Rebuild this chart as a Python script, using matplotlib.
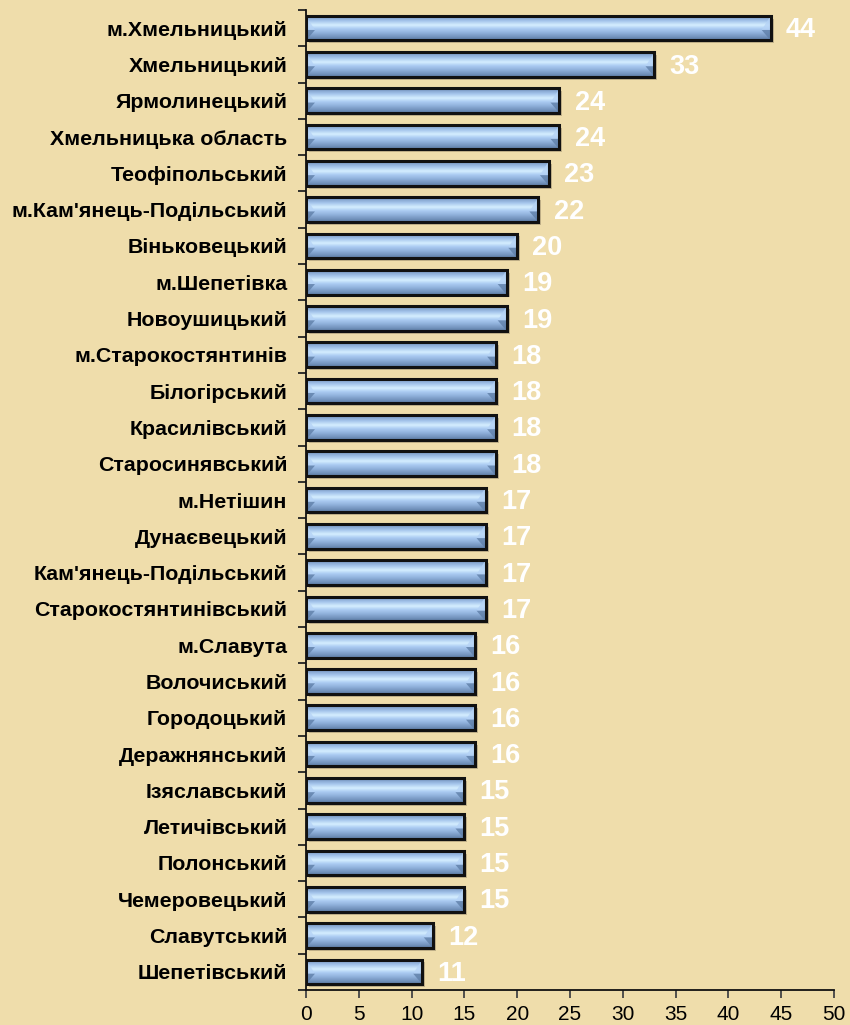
import numpy as np
import matplotlib
matplotlib.use("Agg")
import matplotlib.pyplot as plt
from matplotlib.colors import LinearSegmentedColormap
from matplotlib.patches import Rectangle, Polygon
from matplotlib.ticker import FixedLocator

categories = [
    "м.Хмельницький", "Хмельницький", "Ярмолинецький", "Хмельницька область",
    "Теофіпольський", "м.Кам'янець-Подільський", "Віньковецький", "м.Шепетівка",
    "Новоушицький", "м.Старокостянтинів", "Білогірський", "Красилівський",
    "Старосинявський", "м.Нетішин", "Дунаєвецький", "Кам'янець-Подільський",
    "Старокостянтинівський", "м.Славута", "Волочиський", "Городоцький",
    "Деражнянський", "Ізяславський", "Летичівський", "Полонський",
    "Чемеровецький", "Славутський", "Шепетівський",
]
values = [44, 33, 24, 24, 23, 22, 20, 19, 19, 18, 18, 18, 18, 17, 17, 17, 17,
          16, 16, 16, 16, 15, 15, 15, 15, 12, 11]
xticks = [0, 5, 10, 15, 20, 25, 30, 35, 40, 45, 50]

plt.rcParams['font.family'] = ['Liberation Sans', 'DejaVu Sans']

bg = "#EFDDAB"
fig = plt.figure(figsize=(8.5, 10.25), dpi=100, facecolor=bg)
ax = fig.add_axes([306/850, 1-990/1025, (834-306)/850, (990-10)/1025])
ax.set_facecolor(bg)

n = len(categories)
ypos = np.arange(n)
h = 0.68

cmap = LinearSegmentedColormap.from_list("bar", [
    (0.00, "#6f8fbb"), (0.22, "#a3c3ea"), (0.40, "#d5eeff"),
    (0.55, "#abcbf2"), (0.72, "#8fb0da"), (0.88, "#7393bd"), (1.00, "#5b79a2")])
grad = np.linspace(0, 1, 64).reshape(-1, 1)

px = 50 / (834 - 306)  # data units per pixel in x
bev = 9 * px
for y, v in zip(ypos, values):
    top, bot = y - h/2, y + h/2
    ax.add_patch(Rectangle((3*px, top + 0.08), v, h, facecolor="#5a5040",
                           alpha=0.3, edgecolor="none", zorder=1))
    im = ax.imshow(grad, cmap=cmap, extent=[0, v, bot, top], origin="upper",
                   aspect="auto", zorder=2, interpolation="bilinear")
    r = Rectangle((0, top), v, h, facecolor="none", edgecolor="#111111",
                  linewidth=2.2, zorder=4)
    ax.add_patch(r)
    im.set_clip_path(r)
    mid = y + 0.05
    ax.add_patch(Polygon([(0, top), (bev, mid), (0, mid)], closed=True,
                         facecolor="#b5d3f6", edgecolor="none", alpha=0.8, zorder=3))
    ax.add_patch(Polygon([(0, mid), (bev, mid), (0, bot)], closed=True,
                         facecolor="#5f7fa8", edgecolor="none", alpha=0.8, zorder=3))
    ax.add_patch(Polygon([(v, top), (v - bev, mid), (v, mid)], closed=True,
                         facecolor="#b5d3f6", edgecolor="none", alpha=0.8, zorder=3))
    ax.add_patch(Polygon([(v, mid), (v - bev, mid), (v, bot)], closed=True,
                         facecolor="#5f7fa8", edgecolor="none", alpha=0.8, zorder=3))
    ax.annotate(str(v), xy=(v, y), xytext=(11, -1.5), textcoords="offset points",
                ha="left", va="center", color="white", fontsize=19.5,
                fontweight="bold", zorder=5)

ax.set_xlim(0, 50)
ax.set_ylim(n - 0.5, -0.5)
ax.set_xticks(xticks)
ax.set_xticklabels([str(t) for t in xticks])
ax.set_yticks(ypos)
ax.set_yticklabels(categories, fontsize=15.4, fontweight="bold")
ax.yaxis.set_minor_locator(FixedLocator(np.arange(-0.5, n, 1.0)))
ax.tick_params(axis="y", which="major", length=0, pad=13.5)
ax.tick_params(axis="y", which="minor", length=6, width=1.3, color="#222222")
ax.tick_params(axis="x", which="major", length=6, width=1.3, color="#444444",
               labelsize=15, pad=5)
for s in ["top", "right"]:
    ax.spines[s].set_visible(False)
for s in ["left", "bottom"]:
    ax.spines[s].set_color("#111111")
    ax.spines[s].set_linewidth(1.3)

fig.savefig("out.png", dpi=100, facecolor=bg)
